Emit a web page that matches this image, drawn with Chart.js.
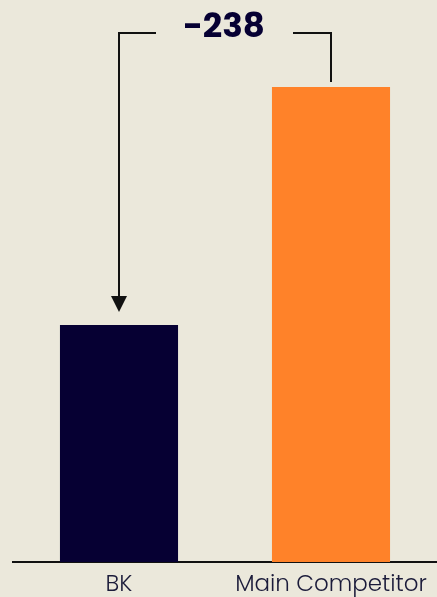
<!DOCTYPE html>
<html>
<head>
<meta charset="utf-8">
<script src="https://cdn.jsdelivr.net/npm/chart.js@4"></script>
<style>
  html, body { margin: 0; padding: 0; background: #ebe8db; }
  #wrap { width: 437px; height: 597px; position: relative; }
</style>
</head>
<body>
<div id="wrap"><canvas id="gapChart"></canvas></div>
<script>
const labels = ['BK', 'Main Competitor'];
const values = [237, 475];
const barColors = ['#060033', '#ff8229'];
const gapLabel = '-238';

// category names under the axis line
const categoryLabels = {
  id: 'categoryLabels',
  afterDraw(chart) {
    const ctx = chart.ctx;
    const x = chart.scales.x;
    const baseY = chart.chartArea.bottom;
    ctx.save();
    ctx.fillStyle = '#1b1b3a';
    ctx.font = '300 23px Poppins, "Open Sans", sans-serif';
    ctx.textAlign = 'center';
    ctx.textBaseline = 'middle';
    labels.forEach((name, i) => {
      ctx.fillText(name, x.getPixelForTick(i), baseY + 23);
    });
    ctx.restore();
  }
};

// bracket + arrow showing the gap between the two bars
const gapBracket = {
  id: 'gapBracket',
  afterDatasetsDraw(chart) {
    const ctx = chart.ctx;
    const meta = chart.getDatasetMeta(0);
    const y = chart.scales.y;
    const xLeft = meta.data[0].x;
    const xRight = meta.data[1].x;
    const topY = y.getPixelForValue(values[1]) - 54;
    const rightEnd = y.getPixelForValue(values[1]) - 5;
    const tipY = y.getPixelForValue(values[0]) - 13;
    const midX = (xLeft + xRight) / 2;

    ctx.save();
    ctx.strokeStyle = '#111111';
    ctx.fillStyle = '#111111';
    ctx.lineWidth = 2;

    ctx.beginPath();
    ctx.moveTo(xLeft + 37, topY);
    ctx.lineTo(xLeft, topY);
    ctx.lineTo(xLeft, tipY - 14);
    ctx.stroke();

    ctx.beginPath();
    ctx.moveTo(xLeft - 8, tipY - 16);
    ctx.lineTo(xLeft + 8, tipY - 16);
    ctx.lineTo(xLeft, tipY);
    ctx.closePath();
    ctx.fill();

    ctx.beginPath();
    ctx.moveTo(xRight - 38, topY);
    ctx.lineTo(xRight, topY);
    ctx.lineTo(xRight, rightEnd);
    ctx.stroke();

    ctx.fillStyle = '#060033';
    ctx.font = 'bold 34px Poppins, "Open Sans", sans-serif';
    ctx.textAlign = 'center';
    ctx.textBaseline = 'middle';
    ctx.fillText(gapLabel, midX - 1, topY - 5);
    ctx.restore();
  }
};

new Chart(document.getElementById('gapChart'), {
  type: 'bar',
  data: {
    labels: labels,
    datasets: [{
      data: values,
      backgroundColor: barColors,
      barPercentage: 0.557,
      categoryPercentage: 1
    }]
  },
  options: {
    responsive: true,
    maintainAspectRatio: false,
    animation: false,
    layout: { padding: { left: 13, top: 0, right: 0, bottom: 35 } },
    plugins: { legend: { display: false }, tooltip: { enabled: false } },
    scales: {
      x: {
        grid: { display: false, drawTicks: false, tickLength: 0 },
        border: { display: true, color: '#111111', width: 2 },
        ticks: { display: false }
      },
      y: {
        display: false,
        min: 0,
        max: 562
      }
    }
  },
  plugins: [gapBracket, categoryLabels]
});
</script>
</body>
</html>
